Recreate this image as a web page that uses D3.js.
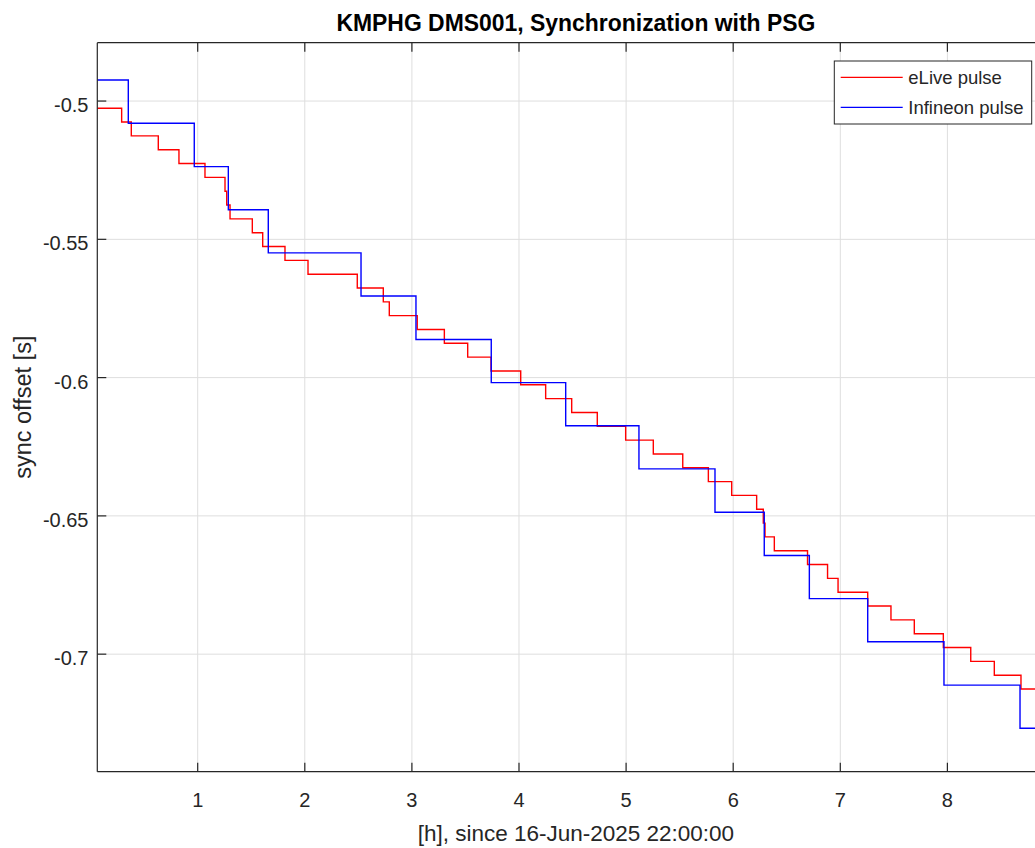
<!DOCTYPE html>
<html>
<head>
<meta charset="utf-8">
<script src="https://cdn.jsdelivr.net/npm/d3@7"></script>
<style>
  body { margin: 0; background: #fff; }
  svg { display: block; font-family: "Liberation Sans", Arial, Helvetica, sans-serif; }
</style>
</head>
<body>
<script>
// step series: time [h] where each level starts, and the offset [s] held from there
const redTimes = [0, 0.290, 0.380, 0.632, 0.825, 1.068, 1.255, 1.271, 1.302, 1.510, 1.607,
  1.815, 2.030, 2.490, 2.733, 2.789, 3.050, 3.303, 3.521, 3.739, 4.016, 4.249, 4.492,
  4.731, 4.996, 5.254, 5.529, 5.768, 5.986, 6.219, 6.281, 6.297, 6.384, 6.694, 6.881,
  6.979, 7.256, 7.473, 7.691, 7.962, 8.218, 8.438, 8.687];
const redValues = [-0.5026, -0.5076, -0.5126, -0.5176, -0.5226, -0.5276, -0.5326, -0.5376,
  -0.5426, -0.5476, -0.5526, -0.5576, -0.5626, -0.5676, -0.5726, -0.5776, -0.5826, -0.5876,
  -0.5926, -0.5976, -0.6026, -0.6076, -0.6126, -0.6176, -0.6226, -0.6276, -0.6326, -0.6376,
  -0.6426, -0.6476, -0.6526, -0.6576, -0.6626, -0.6676, -0.6726, -0.6776, -0.6826, -0.6876,
  -0.6926, -0.6976, -0.7026, -0.7076, -0.7126];
const blueTimes = [0, 0.352, 0.968, 1.286, 1.659, 2.525, 3.038, 3.741, 4.436, 5.120, 5.830,
  6.290, 6.711, 7.256, 7.968, 8.678];
const blueValues = [-0.4924, -0.5080, -0.5237, -0.5393, -0.5549, -0.5705, -0.5862, -0.6018,
  -0.6174, -0.6330, -0.6487, -0.6643, -0.6799, -0.6955, -0.7112, -0.7268];

const xTicks = [1, 2, 3, 4, 5, 6, 7, 8];
const yTicks = [-0.5, -0.55, -0.6, -0.65, -0.7];
const yTickLabels = ["-0.5", "-0.55", "-0.6", "-0.65", "-0.7"];
const seriesNames = ["eLive pulse", "Infineon pulse"];
const seriesColors = ["#ff0000", "#0000ff"];

let width = 1035;
let height = 848;
let plot = {left: 97.3, right: 1054.5, top: 42.7, bottom: 771.7};
let axisColor = "#262626";

let svg = d3.select("body").append("svg").attr("width", width).attr("height", height);

let x = d3.scaleLinear().domain([0.0626, 9.0]).range([plot.left, plot.right]);
let y = d3.scaleLinear().domain([-0.7425, -0.4789]).range([plot.bottom, plot.top]);

svg.append("defs").append("clipPath").attr("id", "clip")
    .append("rect")
    .attr("x", plot.left).attr("y", plot.top)
    .attr("width", plot.right - plot.left).attr("height", plot.bottom - plot.top);

// grid
svg.append("g")
    .attr("stroke", "#dedede")
    .attr("stroke-width", 1)
    .call(g => g.selectAll("line.v").data(xTicks).join("line").attr("class", "v")
        .attr("x1", d => x(d)).attr("x2", d => x(d))
        .attr("y1", plot.top).attr("y2", plot.bottom))
    .call(g => g.selectAll("line.h").data(yTicks).join("line").attr("class", "h")
        .attr("x1", plot.left).attr("x2", plot.right)
        .attr("y1", d => y(d)).attr("y2", d => y(d)));

// series
let series = [
    {name: seriesNames[0], color: seriesColors[0], pts: redTimes.map((t, i) => [t, redValues[i]])},
    {name: seriesNames[1], color: seriesColors[1], pts: blueTimes.map((t, i) => [t, blueValues[i]])}
];
series.forEach(s => s.pts.push([x.domain()[1], s.pts[s.pts.length - 1][1]]));

let line = d3.line()
    .x(d => x(d[0]))
    .y(d => y(d[1]))
    .curve(d3.curveStepAfter);

svg.append("g")
    .attr("clip-path", "url(#clip)")
    .selectAll("path")
    .data(series)
    .join("path")
    .attr("fill", "none")
    .attr("stroke", d => d.color)
    .attr("stroke-width", 1.4)
    .attr("d", d => line(d.pts));

// axes (MATLAB style: box, inward ticks)
let tickLen = 9;
let axes = svg.append("g").attr("stroke", axisColor).attr("stroke-width", 1.2);
axes.append("line").attr("x1", plot.left).attr("x2", plot.right).attr("y1", plot.bottom).attr("y2", plot.bottom);
axes.append("line").attr("x1", plot.left).attr("x2", plot.right).attr("y1", plot.top).attr("y2", plot.top);
axes.append("line").attr("x1", plot.left).attr("x2", plot.left).attr("y1", plot.top).attr("y2", plot.bottom);
axes.selectAll("line.xb").data(xTicks).join("line").attr("class", "xb")
    .attr("x1", d => x(d)).attr("x2", d => x(d))
    .attr("y1", plot.bottom).attr("y2", plot.bottom - tickLen);
axes.selectAll("line.xt").data(xTicks).join("line").attr("class", "xt")
    .attr("x1", d => x(d)).attr("x2", d => x(d))
    .attr("y1", plot.top).attr("y2", plot.top + tickLen);
axes.selectAll("line.yl").data(yTicks).join("line").attr("class", "yl")
    .attr("x1", plot.left).attr("x2", plot.left + tickLen)
    .attr("y1", d => y(d)).attr("y2", d => y(d));

svg.append("g")
    .attr("fill", axisColor)
    .attr("font-size", 20)
    .attr("text-anchor", "middle")
    .selectAll("text")
    .data(xTicks)
    .join("text")
    .attr("x", d => x(d))
    .attr("y", 807)
    .text(d => d);

svg.append("g")
    .attr("fill", axisColor)
    .attr("font-size", 20)
    .attr("text-anchor", "end")
    .selectAll("text")
    .data(yTicks)
    .join("text")
    .attr("x", 88.5)
    .attr("y", d => y(d) + 11)
    .text((d, i) => yTickLabels[i]);

let cx = (plot.left + plot.right) / 2;
let cy = (plot.top + plot.bottom) / 2;

svg.append("text")
    .attr("x", cx).attr("y", 841)
    .attr("text-anchor", "middle")
    .attr("font-size", 22.5)
    .attr("fill", axisColor)
    .text("[h], since 16-Jun-2025 22:00:00");

svg.append("text")
    .attr("transform", `translate(31,${cy}) rotate(-90)`)
    .attr("text-anchor", "middle")
    .attr("font-size", 23.5)
    .attr("fill", axisColor)
    .text("sync offset [s]");

svg.append("text")
    .attr("x", cx).attr("y", 31)
    .attr("text-anchor", "middle")
    .attr("font-size", 24)
    .attr("font-weight", "bold")
    .attr("textLength", 479)
    .attr("lengthAdjust", "spacingAndGlyphs")
    .attr("fill", "#000")
    .text("KMPHG DMS001, Synchronization with PSG");

// legend
let legend = svg.append("g").attr("transform", "translate(834.3,61)");
legend.append("rect")
    .attr("width", 197.4).attr("height", 63)
    .attr("fill", "#fff")
    .attr("stroke", axisColor)
    .attr("stroke-width", 1);
let item = legend.selectAll("g")
    .data(series)
    .join("g")
    .attr("transform", (d, i) => `translate(0,${16.3 + i * 30})`);
item.append("line")
    .attr("x1", 6.4).attr("x2", 68.4)
    .attr("stroke", d => d.color)
    .attr("stroke-width", 1.2);
item.append("text")
    .attr("x", 74)
    .attr("y", 6.5)
    .attr("font-size", 18.5)
    .attr("fill", axisColor)
    .text(d => d.name);
</script>
</body>
</html>
